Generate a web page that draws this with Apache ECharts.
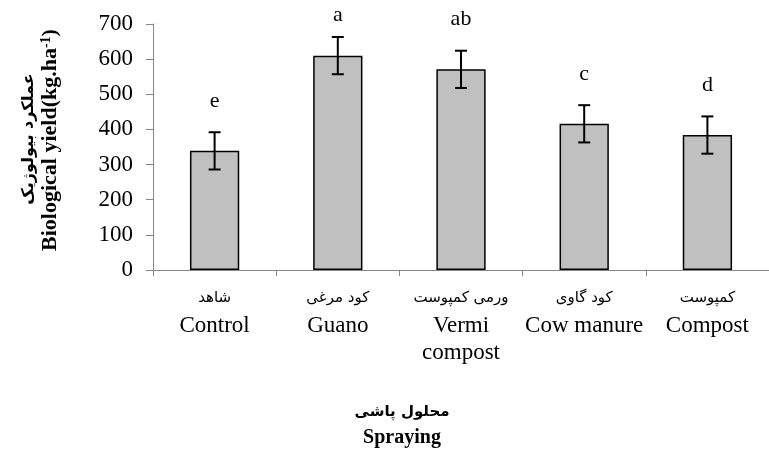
<!DOCTYPE html>
<html><head><meta charset="utf-8">
<script src="https://cdn.jsdelivr.net/npm/echarts@6/dist/echarts.min.js"></script>
<style>html,body{margin:0;padding:0;background:#fff}#c{width:769px;height:464px}</style>
</head><body><div id="c"></div>
<script>
const categoriesFa = ['شاهد', 'کود مرغی', 'ورمی کمپوست', 'کود گاوی', 'کمپوست'];
const categoriesEn = ['Control', 'Guano', 'Vermi\ncompost', 'Cow manure', 'Compost'];
const values = [339, 610, 571, 416, 384];
const errors = [53, 53, 53, 53, 53];
const letters = ['e', 'a', 'ab', 'c', 'd'];
const yMin = 0, yMax = 700, yStep = 100;

const SERIF = 'Liberation Serif';
const FA = 'DejaVu Sans';

const chart = echarts.init(document.getElementById('c'), null, {renderer: 'canvas'});
chart.setOption({
  animation: false,
  backgroundColor: '#fff',
  grid: {left: 153, top: 24, bottom: 194, width: 625, containLabel: false},
  xAxis: {
    type: 'category',
    data: categoriesEn.map((e, i) => i),
    boundaryGap: true,
    axisLine: {show: true, lineStyle: {color: '#868686', width: 1}},
    axisTick: {show: true, length: 6, lineStyle: {color: '#868686'}},
    axisLabel: {
      margin: 15,
      interval: 0,
      formatter: (v, i) => {
        const en = categoriesEn[i].split('\n').map(s => '{en|' + s + '}').join('\n');
        return '{fa|' + categoriesFa[i] + '}\n' + en;
      },
      rich: {
        fa: {fontFamily: FA, fontSize: 15, lineHeight: 27, color: '#000'},
        en: {fontFamily: SERIF, fontSize: 23, lineHeight: 27, color: '#000'}
      }
    }
  },
  yAxis: {
    type: 'value',
    min: yMin, max: yMax, interval: yStep,
    axisLine: {show: true, lineStyle: {color: '#868686', width: 1}},
    axisTick: {show: true, length: 7, lineStyle: {color: '#868686'}},
    splitLine: {show: false},
    axisLabel: {margin: 20, fontFamily: SERIF, fontSize: 23, color: '#000'}
  },
  graphic: [
    {type: 'text', x: 29, y: 139, rotation: Math.PI / 2,
     style: {text: 'عملکرد بیولوژیک', fontFamily: FA, fontWeight: 'bold', fontSize: 16, fill: '#000', align: 'center', verticalAlign: 'middle'}},
    {type: 'text', x: 50, y: 140, rotation: Math.PI / 2,
     style: {text: '{b|Biological yield(kg.ha}{s|-1}{b|)}', align: 'center', verticalAlign: 'middle', fill: '#000',
       rich: {b: {fontFamily: SERIF, fontWeight: 'bold', fontSize: 22, fill: '#000'},
              s: {fontFamily: SERIF, fontWeight: 'bold', fontSize: 14, verticalAlign: 'top', fill: '#000'}}}},
    {type: 'text', x: 402, y: 412,
     style: {text: 'محلول پاشی', fontFamily: FA, fontWeight: 'bold', fontSize: 15, fill: '#000', align: 'center', verticalAlign: 'middle'}},
    {type: 'text', x: 402, y: 438,
     style: {text: 'Spraying', fontFamily: SERIF, fontWeight: 'bold', fontSize: 20, fill: '#000', align: 'center', verticalAlign: 'middle'}}
  ],
  series: [
    {
      type: 'bar',
      data: values,
      barWidth: '40%',
      itemStyle: {color: '#c0c0c0', borderColor: '#000', borderWidth: 1.5},
      z: 2
    },
    {
      type: 'custom',
      data: values.map((v, i) => [i, v, errors[i]]),
      z: 5,
      renderItem: (params, api) => {
        const i = api.value(0), v = api.value(1), e = api.value(2);
        const t = api.coord([i, v + e]);
        const b = api.coord([i, v - e]);
        const hw = 6;
        const ls = {stroke: '#000', lineWidth: 2};
        const ty = Math.max(t[1] - 31, 15);
        return {
          type: 'group',
          children: [
            {type: 'line', shape: {x1: t[0], y1: t[1], x2: b[0], y2: b[1]}, style: ls},
            {type: 'line', shape: {x1: t[0] - hw, y1: t[1], x2: t[0] + hw, y2: t[1]}, style: ls},
            {type: 'line', shape: {x1: b[0] - hw, y1: b[1], x2: b[0] + hw, y2: b[1]}, style: ls},
            {type: 'text', x: t[0], y: ty,
             style: {text: letters[params.dataIndex], fontFamily: SERIF, fontSize: 22, fill: '#000', align: 'center', verticalAlign: 'middle'}}
          ]
        };
      }
    }
  ]
});
</script></body></html>
